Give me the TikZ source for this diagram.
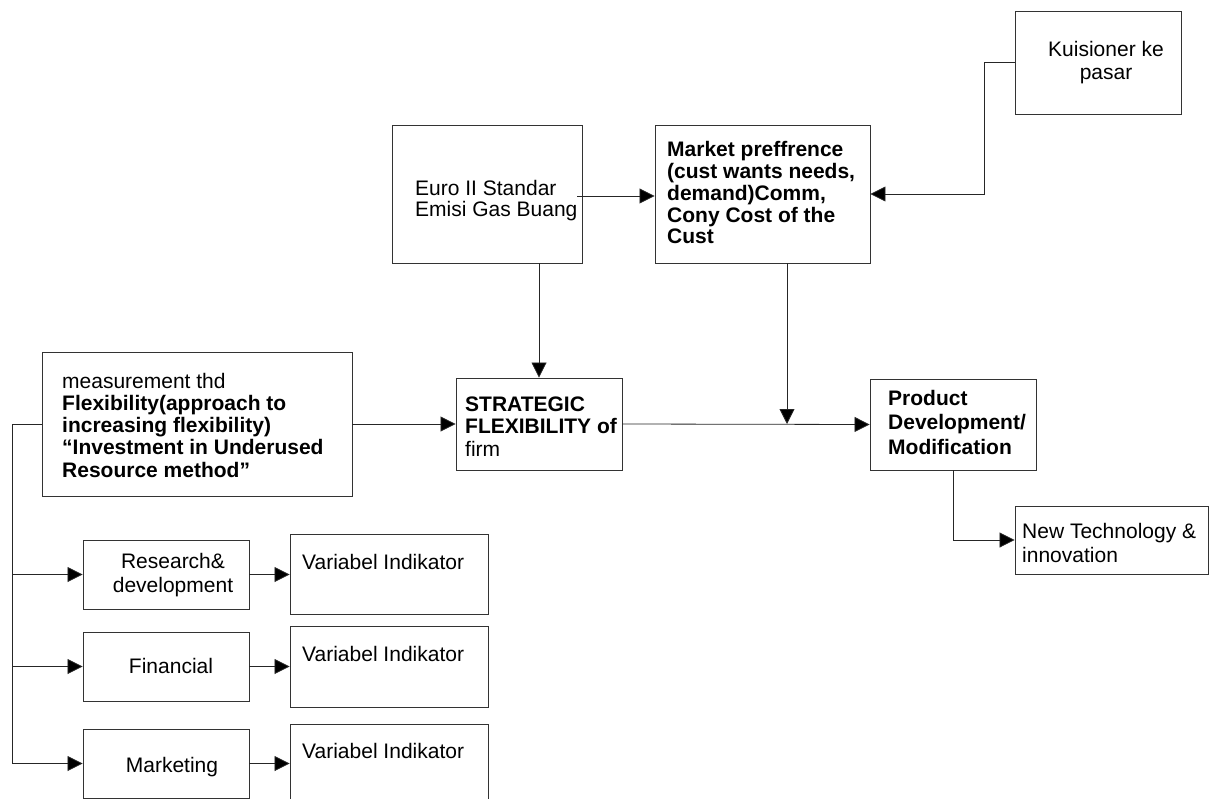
\documentclass[tikz,border=0pt]{standalone}
\usepackage{fontspec}
\setmainfont{Liberation Sans}
\usetikzlibrary{arrows.meta}
\begin{document}
\begin{tikzpicture}[x=1pt,y=-1pt,
  box/.style={draw=black!80,line width=0.9pt,inner sep=0pt,fill=none},
  txt/.style={inner sep=0pt,align=left,font=\fontsize{21}{#1}\selectfont},
  txt/.default=22,
  ctxt/.style={inner sep=0pt,align=center,font=\fontsize{21}{#1}\selectfont},
  ctxt/.default=22,
  btxt/.style={inner sep=0pt,align=left,font=\fontsize{21}{#1}\selectfont\bfseries},
  btxt/.default=22,
  arr/.style={draw=black!85,line width=0.8pt,-{Triangle[length=15pt,width=15pt,fill=black]}},
  ln/.style={draw=black!85,line width=0.8pt}]
\useasboundingbox (0,0) rectangle (1209,799);
\clip (0,0) rectangle (1209,799);
% boxes
\node[box,minimum width=166pt,minimum height=103pt] (kuis) at (1098,62.5) {};
\node[box,minimum width=190pt,minimum height=138pt] (euro) at (487,194) {};
\node[box,minimum width=215pt,minimum height=138pt] (market) at (762.5,194) {};
\node[box,minimum width=310pt,minimum height=144pt] (meas) at (197,424) {};
\node[box,minimum width=166pt,minimum height=92pt] (strat) at (539,424) {};
\node[box,minimum width=166pt,minimum height=91pt] (prod) at (953,424.5) {};
\node[box,minimum width=193pt,minimum height=68pt] (newt) at (1111.5,540) {};
\node[box,minimum width=166pt,minimum height=69pt] (rd) at (166,574.5) {};
\node[box,minimum width=198pt,minimum height=80pt] (var1) at (389,574) {};
\node[box,minimum width=166pt,minimum height=69pt] (fin) at (166,666.5) {};
\node[box,minimum width=198pt,minimum height=81pt] (var2) at (389,666.5) {};
\node[box,minimum width=166pt,minimum height=69pt] (mkt) at (166,763.5) {};
\node[box,minimum width=198pt,minimum height=86pt] (var3) at (389,767) {};
% texts (base anchor = baseline of the last line)
\node[ctxt=23,anchor=base] (kuisT) at (1106,80) {Kuisioner ke\\pasar};
\node[txt=21,anchor=base west] (euroT) at (415,217) {Euro II Standar\\Emisi Gas Buang};
\node[btxt=21.75,anchor=base west] (marketT) at (667,244) {Market preffrence\\(cust wants needs,\\demand)Comm,\\Cony Cost of the\\Cust};
\node[txt=22.25,anchor=base west] (measT) at (62,477) {measurement thd\\\textbf{Flexibility(approach to}\\\textbf{increasing flexibility)}\\\textbf{“Investment in Underused}\\\textbf{Resource method”}};
\node[txt=22.5,anchor=base west] (stratT) at (465,456) {\textbf{STRATEGIC}\\\textbf{FLEXIBILITY of}\\firm};
\node[btxt=24.5,anchor=base west] (prodT) at (888,454) {Product\\Development/\\Modification};
\node[txt=24,anchor=base west] (newtT) at (1022,562) {New Technology \&\\innovation};
\node[ctxt=24,anchor=base] (rdT) at (173,592) {Research\&\\development};
\node[ctxt,anchor=base] (finT) at (171,673) {Financial};
\node[ctxt,anchor=base] (mktT) at (172,772) {Marketing};
\node[txt,anchor=base west] (var1T) at (302,569) {Variabel Indikator};
\node[txt,anchor=base west] (var2T) at (302,661) {Variabel Indikator};
\node[txt,anchor=base west] (var3T) at (302,758) {Variabel Indikator};
% connectors
\coordinate (kk) at (984,194);
\draw[arr] (kuis.west) -| (kk) -- (market.east);
\coordinate (ea) at (577,196);
\draw[arr] (ea) -- (ea -| market.west);
\draw[arr] (euro.south -| strat.north) -- (strat.north);
\coordinate (mj) at (787,424);
\draw[arr] (mj |- market.south) -- (mj);
\draw[arr] (meas.east) -- (strat.west);
\draw[arr] (strat.east) -- (prod.west);
\draw[arr] (prod.south) |- (newt.west);
\coordinate (bus) at (12,0);
\draw[arr] (meas.west) -| (bus |- mkt.west) -- (mkt.west);
\draw[arr] (bus |- rd.west) -- (rd.west);
\draw[arr] (bus |- fin.west) -- (fin.west);
\draw[arr] (rd.east) -- (rd.east -| var1.west);
\draw[arr] (fin.east) -- (fin.east -| var2.west);
\draw[arr] (mkt.east) -- (mkt.east -| var3.west);
\end{tikzpicture}
\end{document}
